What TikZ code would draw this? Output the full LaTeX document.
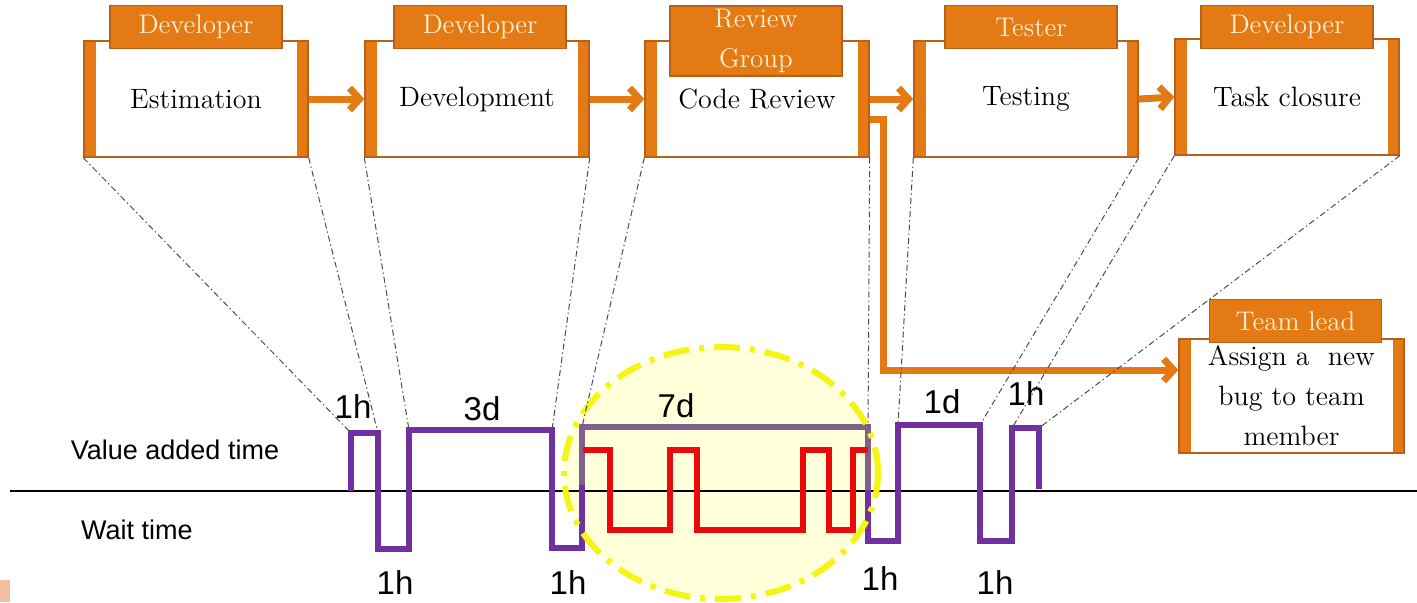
\documentclass[tikz,border=0pt]{standalone}
\usepackage{fontspec}
\setsansfont{Liberation Sans}
\usetikzlibrary{arrows.meta,calc}
\definecolor{orangeC}{RGB}{228,122,20}
\definecolor{orangeD}{RGB}{185,95,25}
\definecolor{purpleC}{RGB}{112,48,160}
\definecolor{mutedP}{RGB}{128,96,140}
\definecolor{redC}{RGB}{235,10,10}
\definecolor{yellowC}{RGB}{245,245,20}
\definecolor{paleY}{RGB}{255,255,218}
\definecolor{labelT}{RGB}{255,238,210}
\definecolor{salmonC}{RGB}{246,190,160}
\begin{document}
\begin{tikzpicture}[x=0.5pt,y=-0.5pt,
  stagebox/.style={draw=orangeD, line width=0.7pt, fill=white, inner sep=0pt,
    minimum width=112pt, minimum height=58pt, align=center,
    font=\fontsize{14}{20}\selectfont, text=black,
    path picture={
      \fill[orangeC] (path picture bounding box.north west) rectangle ([xshift=6pt]path picture bounding box.south west);
      \fill[orangeC] ([xshift=-5.5pt]path picture bounding box.north east) rectangle (path picture bounding box.south east);}},
  rolebox/.style={draw=orangeD, line width=0.6pt, fill=orangeC, text=labelT, inner sep=0pt,
    minimum width=86pt, minimum height=21.5pt, align=center, font=\fontsize{13.5}{20}\selectfont},
  flow/.style={draw=orangeC, line width=3.5pt, -{Straight Barb[length=5pt,width=11pt]}},
  guide/.style={draw=black!70, line width=0.5pt, dash pattern=on 3pt off 1.5pt on 0.7pt off 1.5pt},
  wave/.style={line width=2.6pt, line join=miter},
  durlabel/.style={font=\sffamily\fontsize{16.5}{18}\selectfont, text=black, inner sep=0pt},
  rowlabel/.style={font=\sffamily\fontsize{13.5}{16}\selectfont, text=black, inner sep=0pt}
]
\useasboundingbox (0,0) rectangle (1417,602);

% stage boxes
\node[stagebox] (b1) at (196,99) {Estimation};
\node[stagebox] (b2) at (477,99) {Development};
\node[stagebox] (b3) at (757,99) {Code Review};
\node[stagebox] (b4) at (1026,99) {Testing};
\node[stagebox] (b5) at (1287,97) {Task closure};
\node[stagebox, minimum width=112.5pt, minimum height=57pt] (team) at (1291.5,396) {Assign a~ new\\bug to team\\member};

% role labels
\node[rolebox] (r1) at (196,27) {Developer};
\node[rolebox] (r2) at (480,27) {Developer};
\node[rolebox, minimum height=35pt] (r3) at (756,41) {Review\\Group};
\node[rolebox] (r4) at (1031,27) {Tester};
\node[rolebox] (r5) at (1287,27) {Developer};
\node[rolebox] (r6) at (1295.5,321) {Team lead};

% flow arrows
\draw[flow] (b1.east) -- (b2.west);
\draw[flow] (b2.east) -- (b3.west);
\draw[flow] (b3.east) -- (b4.west);
\draw[flow] (b4.east) -- (b5.west);
\draw[flow] ([yshift=-10pt]b3.east) -- ++(7pt,0) |- ([yshift=13pt]team.west);

% highlight ellipse fill
\fill[paleY] (721,473) ellipse [x radius=78.5pt, y radius=63pt];

% axis
\coordinate (axL) at (10,491);
\coordinate (axR) at (1417,491);
\draw[black, line width=1.4pt] (axL) -- (axR);

% waveform key points
\coordinate (p1) at (351,433);
\coordinate (p2) at (378,433);
\coordinate (p3) at (409,430);
\coordinate (p4) at (552,430);
\coordinate (p5) at (582,427);
\coordinate (p6) at (868,427);
\coordinate (p7) at (898,425);
\coordinate (p8) at (980,425);
\coordinate (p9) at (1012,428);
\coordinate (p10) at (1039,428);

% purple waveform
\draw[wave, purpleC] (351,491) -- (p1) -- (p2) -- (378,549) -- (409,549) -- (p3) -- (p4)
  -- (552,548) -- (582,548) -- (582,485);
\draw[wave, mutedP] (582,485) -- (p5) -- (p6) -- (868,490);
\draw[wave, purpleC] (868,490) -- (868,541) -- (898,541) -- (p7) -- (p8) -- (980,541)
  -- (1012,541) -- (p9) -- (p10) -- (1039,489);

% red waveform
\draw[wave, redC] (583,450) -- (610,450) -- (610,530) -- (670,530) -- (670,450) -- (697,450)
  -- (697,530) -- (803,530) -- (803,450) -- (829,450) -- (829,530) -- (853,530)
  -- (853,450) -- (868,450);

% highlight ellipse border
\draw[yellowC, line width=3pt, dash pattern=on 13pt off 5pt on 2.5pt off 5pt]
  (721,473) ellipse [x radius=78.5pt, y radius=63pt];

% guide lines
\draw[guide] (b1.south west) -- (p1);
\draw[guide] (b1.south east) -- (p2);
\draw[guide] (b2.south west) -- (p3);
\draw[guide] (b2.south east) -- (p4);
\draw[guide] (b3.south west) -- (p5);
\draw[guide] (b3.south east) -- (p6);
\draw[guide] (b4.south west) -- (p7);
\draw[guide] (b4.south east) -- (p8);
\draw[guide] (b5.south west) -- (p9);
\draw[guide] (b5.south east) -- (p10);

% duration labels
\node[durlabel] (d1) at (353,407) {1h};
\node[durlabel] (d2) at (482,409) {3d};
\node[durlabel] (d3) at (676,406) {7d};
\node[durlabel] (d4) at (942,402) {1d};
\node[durlabel] (d5) at (1026,394) {1h};
\node[durlabel] (w1) at (395,583) {1h};
\node[durlabel] (w2) at (568,583) {1h};
\node[durlabel] (w3) at (880,579) {1h};
\node[durlabel] (w4) at (995,583) {1h};

% row labels
\node[rowlabel] (va) at (175,450) {Value added time};
\node[rowlabel] (wt) at (137,530) {Wait time};

% slide fragment
\fill[salmonC] (0,580) rectangle (10,602);
\end{tikzpicture}
\end{document}
